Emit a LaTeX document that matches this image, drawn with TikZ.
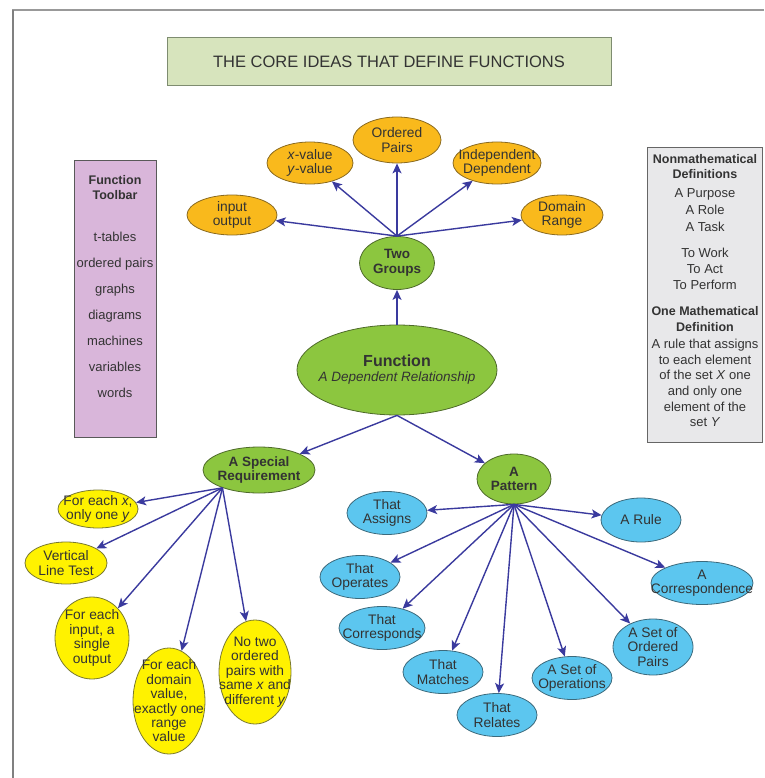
\documentclass[tikz,border=0pt]{standalone}
\usepackage{fontspec}
\setmainfont{Liberation Sans}
\usetikzlibrary{shapes.geometric,arrows.meta}
\definecolor{cTxt}{HTML}{333333}
\definecolor{cArr}{HTML}{3A3A9E}
\definecolor{cTitle}{HTML}{D7E4BD}
\definecolor{cTitleBd}{HTML}{7E8C70}
\definecolor{cTool}{HTML}{D9B6DA}
\definecolor{cRight}{HTML}{E8E8EA}
\definecolor{cGr}{HTML}{8CC63F}
\definecolor{cGrBd}{HTML}{4E6A2A}
\definecolor{cOr}{HTML}{F9B91C}
\definecolor{cOrBd}{HTML}{8A6A20}
\definecolor{cYe}{HTML}{FFF200}
\definecolor{cYeBd}{HTML}{7A7A30}
\definecolor{cBl}{HTML}{5CC6EF}
\definecolor{cBlBd}{HTML}{3C6A7C}
\begin{document}
\begin{tikzpicture}[x=1pt,y=-1pt,
  every node/.style={text=cTxt},
  lbl/.style={align=center,font=\fontsize{13.8}{14.4}\selectfont,inner sep=0pt},
  blbl/.style={align=center,font=\fontsize{13.5}{14.6}\selectfont\bfseries,inner sep=0pt},
  bub/.style={ellipse,inner sep=0pt,line width=0.8pt},
  gbub/.style={bub,fill=cGr,draw=cGrBd},
  obub/.style={bub,fill=cOr,draw=cOrBd},
  ybub/.style={bub,fill=cYe,draw=cYeBd},
  cbub/.style={bub,fill=cBl,draw=cBlBd},
  arr/.style={draw=cArr,line width=1.4pt,-{Stealth[length=10pt,width=9pt,inset=2.5pt]}},
  panel/.style={rectangle,inner sep=0pt,line width=1pt}]
\useasboundingbox (0,0) rectangle (764,778);
% frame
\draw[line width=2pt,draw=black!40] (12,10) -- (764,10);
\draw[line width=1.5pt,draw=black!50] (13,10) -- (13,778);
% title
\node[panel,fill=cTitle,draw=cTitleBd,minimum width=444,minimum height=48,
  font=\fontsize{16.5}{18}\selectfont] (title) at (389,62) {THE CORE IDEAS THAT DEFINE FUNCTIONS};
% toolbar
\node[panel,fill=cTool,draw=black!65,minimum width=82,minimum height=276] (tool) at (115,299) {};
\node[blbl,font=\fontsize{12.5}{15}\selectfont\bfseries] (toolh) at (115,188) {Function\\Toolbar};
\node[lbl,font=\fontsize{13}{26}\selectfont] (tooli) at (115,315) {t-tables\\ordered pairs\\graphs\\diagrams\\machines\\variables\\words};
% right box
\node[panel,fill=cRight,draw=black!60,minimum width=115,minimum height=294] (defs) at (704.5,295) {};
\node[blbl,font=\fontsize{12.5}{15}\selectfont\bfseries] (dh1) at (705,167) {Nonmathematical\\Definitions};
\node[lbl,font=\fontsize{13}{17}\selectfont] (dl1) at (705,210) {A Purpose\\A Role\\A Task};
\node[lbl,font=\fontsize{13}{16}\selectfont] (dl2) at (705,269) {To Work\\To Act\\To Perform};
\node[blbl,font=\fontsize{12.5}{16}\selectfont\bfseries] (dh2) at (705,319) {One Mathematical\\Definition};
\node[lbl,font=\fontsize{13}{15.6}\selectfont] (dl3) at (705,383) {A rule that assigns\\to each element\\of the set \textit{X} one\\and only one\\element of the\\set \textit{Y}};
% central nodes
\node[gbub,minimum width=200,minimum height=90,
  label={[lbl,font=\fontsize{13.5}{15}\selectfont]center:{\fontsize{16}{16}\selectfont\bfseries Function}\\\textit{A Dependent Relationship}}] (fn) at (397,370) {};
\node[gbub,minimum width=75,minimum height=53,label={[blbl]center:Two\\Groups}] (tg) at (397,263) {};
\node[gbub,minimum width=112,minimum height=46,label={[blbl]center:A Special\\Requirement}] (sr) at (259,470) {};
\node[gbub,minimum width=74,minimum height=50,label={[blbl]center:A\\Pattern}] (pat) at (514,479) {};
% orange
\node[obub,minimum width=90,minimum height=40,label={[lbl]center:input\\output}] (io) at (232,215) {};
\node[obub,minimum width=86,minimum height=42,label={[lbl]center:\textit{x}-value\\\textit{y}-value}] (xy) at (310,163) {};
\node[obub,minimum width=88,minimum height=46,label={[lbl]center:Ordered\\Pairs}] (opr) at (397,140) {};
\node[obub,minimum width=88,minimum height=42,label={[lbl]center:Independent\\Dependent}] (idp) at (497,163) {};
\node[obub,minimum width=82,minimum height=40,label={[lbl]center:Domain\\Range}] (dr) at (562,215) {};
% yellow
\node[ybub,minimum width=80,minimum height=38,label={[lbl]center:For each \textit{x},\\only one \textit{y}}] (y1) at (98,509) {};
\node[ybub,minimum width=82,minimum height=42,label={[lbl]center:Vertical\\Line Test}] (y2) at (66,563) {};
\node[ybub,minimum width=74,minimum height=82,label={[lbl]center:For each\\input, a\\single\\output}] (y3) at (92,638) {};
\node[ybub,minimum width=72,minimum height=106,label={[lbl]center:For each\\domain\\value,\\exactly one\\range\\value}] (y4) at (169,701) {};
\node[ybub,minimum width=72,minimum height=104,label={[lbl]center:No two\\ordered\\pairs with\\same \textit{x} and\\different \textit{y}}] (y5) at (255,672) {};
% blue
\node[cbub,minimum width=80,minimum height=43,label={[lbl]center:That\\Assigns}] (b1) at (387,513) {};
\node[cbub,minimum width=80,minimum height=44,label={[lbl]center:A Rule}] (b2) at (641,520) {};
\node[cbub,minimum width=80,minimum height=43,label={[lbl]center:That\\Operates}] (b3) at (360,577) {};
\node[cbub,minimum width=102,minimum height=43,label={[lbl]center:A\\Correspondence}] (b4) at (702,583) {};
\node[cbub,minimum width=86,minimum height=43,label={[lbl]center:That\\Corresponds}] (b5) at (382,628) {};
\node[cbub,minimum width=80,minimum height=56,label={[lbl]center:A Set of\\Ordered\\Pairs}] (b6) at (653,647) {};
\node[cbub,minimum width=80,minimum height=43,label={[lbl]center:That\\Matches}] (b7) at (443,672) {};
\node[cbub,minimum width=80,minimum height=43,label={[lbl]center:A Set of\\Operations}] (b8) at (572,678) {};
\node[cbub,minimum width=80,minimum height=43,label={[lbl]center:That\\Relates}] (b9) at (497,715) {};
% arrows
\draw[arr] (fn.north) -- (tg);
\draw[arr] (fn.south) -- (sr);
\draw[arr] (fn.south) -- (pat);
\foreach \t in {io,xy,opr,idp,dr} \draw[arr] (tg.north) -- (\t);
\foreach \t in {y1,y2,y3,y4,y5} \draw[arr] (sr.206) -- (\t);
\foreach \t in {b1,b2,b3,b4,b5,b6,b7,b8,b9} \draw[arr] (pat.south) -- (\t);
\end{tikzpicture}
\end{document}
